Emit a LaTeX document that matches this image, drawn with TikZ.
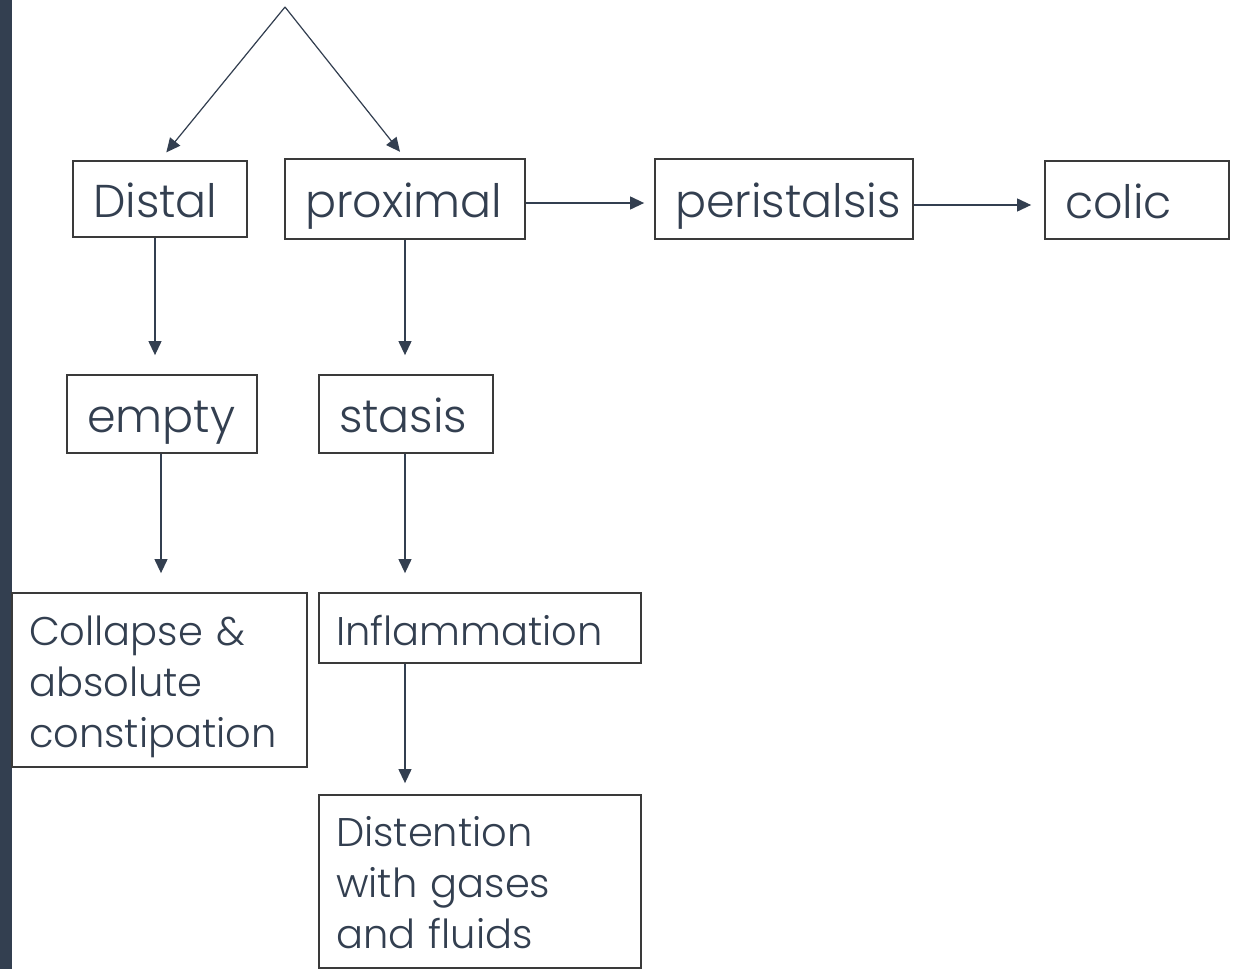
\documentclass[tikz,border=0pt]{standalone}
\usepackage{fontspec}
\setmainfont{Poppins Light}
\usetikzlibrary{arrows.meta}
\definecolor{slate}{HTML}{333F50}
\definecolor{boxline}{HTML}{3A3A3A}
\tikzset{
  box/.style={draw=boxline, line width=1.8pt, text=slate, align=left, inner xsep=20pt, inner ysep=0pt,
    font=\fontsize{46}{52}\selectfont, text height=44pt, text depth=7pt},
  small/.style={font=\fontsize{40}{51}\selectfont, inner xsep=17pt, text height=40pt, text depth=6pt},
  tall/.style={text height=40pt, text depth=110pt},
  arr/.style={draw=slate, line width=1.2pt, -{Triangle[length=14pt,width=13pt]}, fill=slate},
}
\begin{document}
\begin{tikzpicture}[x=1pt,y=-1pt]
\useasboundingbox (0,0) rectangle (1240,969);
\fill[white] (0,0) rectangle (1240,969);
\fill[slate] (0,0) rectangle (12,969);
\node[box, minimum width=174pt, minimum height=76pt, text width=134pt] (distal) at (160,199) {Distal};
\node[box, minimum width=240pt, minimum height=80pt, text width=200pt] (proximal) at (405,199) {proximal};
\node[box, minimum width=258pt, minimum height=80pt, text width=218pt] (peri) at (784,199) {peristalsis};
\node[box, minimum width=184pt, minimum height=78pt, text width=144pt] (colic) at (1137,200) {colic};
\node[box, minimum width=190pt, minimum height=78pt, text width=150pt] (empty) at (162,414) {empty};
\node[box, minimum width=174pt, minimum height=78pt, text width=134pt] (stasis) at (406,414) {stasis};
\node[box, small, tall, minimum width=295pt, minimum height=174pt, text width=261pt] (collapse) at (159.5,680) {Collapse \&\\absolute\\constipation};
\node[box, small, minimum width=322pt, minimum height=70pt, text width=288pt] (infl) at (480,628) {Inflammation};
\node[box, small, tall, minimum width=322pt, minimum height=173pt, text width=288pt] (dist) at (480,881.5) {Distention\\with gases\\and fluids};
\coordinate (apex) at (285,7);
\draw[arr, shorten >=10pt] (apex) -- (distal.north);
\draw[arr, shorten >=8pt] (apex) -- (proximal.north);
\draw[arr, shorten >=10pt] ([yshift=-4pt]proximal.east) -- ([yshift=-4pt]peri.west);
\draw[arr, shorten >=13pt] ([yshift=-6pt]peri.east) -- ([yshift=-5pt]colic.west);
\draw[arr, shorten >=19pt] ([xshift=-5pt]distal.south) -- ([xshift=-5pt]distal.south |- empty.north);
\draw[arr, shorten >=19pt] (proximal.south) -- (proximal.south |- stasis.north);
\draw[arr, shorten >=19pt] ([xshift=-1pt]empty.south) -- ([xshift=-1pt]empty.south |- collapse.north);
\draw[arr, shorten >=19pt] ([xshift=-1pt]stasis.south) -- ([xshift=-1pt]stasis.south |- infl.north);
\draw[arr, shorten >=11pt] ([xshift=-1pt]stasis.south |- infl.south) -- ([xshift=-1pt]stasis.south |- dist.north);
\end{tikzpicture}
\end{document}
